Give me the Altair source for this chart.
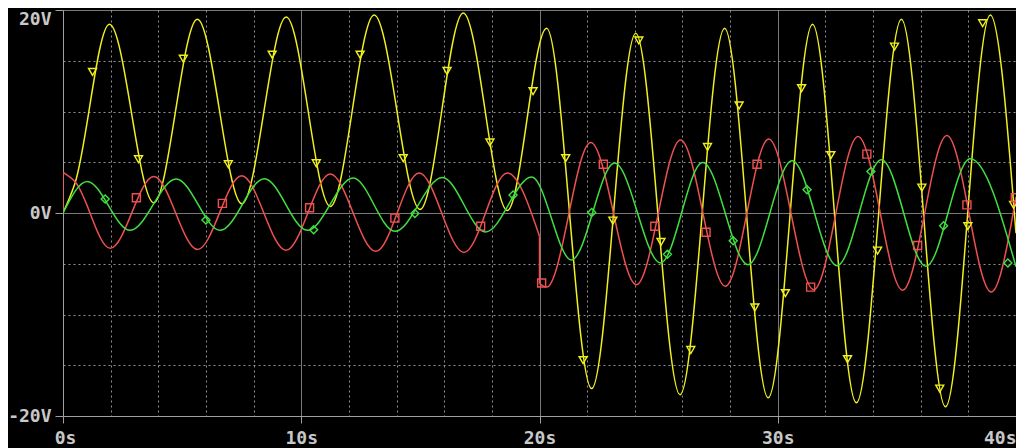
import altair as alt
import pandas as pd

# ---- trace data (time in s, value in V) ----
# yellow trace: start, extrema, end
yel_t = [0, 0.5, 1.95, 3.81, 5.64, 7.51, 9.37, 11.22, 13.06, 14.99, 16.80, 18.65, 20.30,
         22.19, 24.04, 25.90, 27.77, 29.60, 31.46, 33.30, 35.19, 37.04, 38.92, 40.0]
yel_v = [0, 2.9, 18.6, 1.0, 19.1, 0.9, 19.3, 0.65, 19.5, 0.35, 19.7, 0.25, 18.2,
         -17.3, 17.7, -17.9, 18.2, -18.2, 18.6, -18.7, 19.1, -19.1, 19.5, -2.0]

# red trace, before and after the step at 20 s
red1_t = [0, 0.5, 1.98, 3.81, 5.65, 7.50, 9.36, 11.22, 13.13, 14.95, 16.83, 18.65, 20.0]
red1_v = [4.0, 3.1, -3.48, 3.6, -3.6, 3.67, -3.68, 3.84, -3.78, 3.94, -3.88, 3.94, -2.3]
red2_t = [20.0, 20.3, 22.15, 24.07, 25.92, 27.80, 29.62, 31.51, 33.37, 35.24, 37.10, 38.96, 40.0]
red2_v = [-6.96, -7.3, 6.95, -7.06, 7.2, -7.22, 7.28, -7.55, 7.54, -7.6, 7.64, -7.78, 1.6]
# vertical steps of the red trace
redjump_t = [0, 0, 20.0, 20.0]
redjump_v = [0, 4.0, -2.3, -6.96]

# green trace
grn_t = [0, 1.01, 2.82, 4.75, 6.60, 8.45, 10.26, 12.18, 13.93, 15.92, 17.74, 19.67, 21.34,
         23.15, 25.08, 26.85, 28.75, 30.60, 32.49, 34.35, 36.22, 38.08, 40.0]
grn_v = [0, 3.11, -1.71, 3.35, -1.71, 3.38, -1.71, 3.44, -1.81, 3.5, -1.87, 3.55, -4.63,
         4.92, -4.92, 4.98, -5.09, 5.15, -5.19, 5.25, -5.25, 5.34, -5.3]

# trace markers
ymk_t = [1.24, 3.17, 5.05, 6.94, 8.78, 10.63, 12.47, 14.28, 16.12, 17.92, 19.73, 21.10, 21.83,
         23.08, 24.17, 25.10, 26.35, 27.05, 28.38, 29.04, 30.32, 31.0, 32.23, 32.93, 34.19,
         34.9, 36.05, 36.8, 37.98, 38.6, 39.9]
ymk_v = [13.9, 5.3, 15.2, 4.8, 15.6, 4.9, 15.6, 5.4, 14.0, 6.95, 12.0, 5.4, -14.5,
         -0.75, 17.0, -2.85, -13.5, 6.5, 10.6, -9.3, -7.9, 12.3, 5.7, -14.4, -3.7,
         16.4, 2.5, -17.3, -1.3, 18.7, 0.8]
rmk_t = [3.08, 6.69, 10.35, 13.93, 17.53, 20.09, 22.68, 24.84, 26.99, 29.13, 31.38, 33.74,
         35.87, 37.94, 39.97]
rmk_v = [1.5, 0.95, 0.52, -0.5, -1.3, -6.9, 4.8, -1.3, -1.9, 4.8, -7.3, 5.8, -3.2, 0.8, 1.5]
gmk_t = [1.77, 6.0, 10.52, 14.77, 18.89, 22.19, 25.37, 28.13, 31.23, 33.91, 36.96, 39.66]
gmk_v = [1.38, -0.69, -1.64, -0.04, 1.77, 0.06, -4.07, -2.73, 2.3, 4.1, -1.25, -4.92]

# axis ticks
x_ticks = [0, 2, 4, 6, 8, 10, 12, 14, 16, 18, 20, 22, 24, 26, 28, 30, 32, 34, 36, 38, 40]
y_ticks = [-20, -15, -10, -5, 0, 5, 10, 15, 20]

series = ["Y", "R", "G"]
colors = ["#f0f020", "#f05050", "#40e040"]
shapes = ["triangle-down", "square", "diamond"]

AX = "#a0a0a0"
GRID = "#909090"
LBL = "#c8c8c8"
FONT = "DejaVu Sans Mono"

rows = []
def add(ts, vs, s, seg):
    for t, v in zip(ts, vs):
        rows.append({"t": t, "v": v, "s": s, "seg": seg})

add(yel_t, yel_v, "Y", "y")
add(red1_t, red1_v, "R", "r1")
add(red2_t, red2_v, "R", "r2")
add(redjump_t[:2], redjump_v[:2], "R", "j1")
add(redjump_t[2:], redjump_v[2:], "R", "j2")
add(grn_t, grn_v, "G", "g")
lines = pd.DataFrame(rows)

mrows = []
for ts, vs, s in [(ymk_t, ymk_v, "Y"), (rmk_t, rmk_v, "R"), (gmk_t, gmk_v, "G")]:
    for t, v in zip(ts, vs):
        mrows.append({"t": t, "v": v, "s": s})
marks = pd.DataFrame(mrows)

xaxis = alt.Axis(
    values=x_ticks, title=None,
    labelExpr="datum.value % 10 == 0 ? datum.value + 's' : ''",
    labelFlush=False, labelOverlap=False, labelBound=False,
    labelAlign={"condition": {"test": "datum.value == 40", "value": "right"}, "value": "center"},
    labelOffset={"condition": {"test": "datum.value == 0", "value": 2}, "value": 0},
    labelFont=FONT, labelFontSize=18, labelFontWeight="bold", labelColor=LBL, labelPadding=6,
    grid=True,
    gridColor={"condition": {"test": "datum.value % 10 == 0", "value": AX}, "value": GRID},
    gridDash={"condition": {"test": "datum.value % 10 == 0", "value": [1, 0]}, "value": [2, 3]},
    gridOpacity={"condition": {"test": "datum.value == 40 || datum.value == 0", "value": 0}, "value": 1},
    gridWidth=1,
    tickOpacity={"condition": {"test": "datum.value % 10 == 0", "value": 1}, "value": 0},
    tickColor=AX, tickSize=7, tickWidth=1,
    domainColor=AX, domainWidth=1,
)
yaxis = alt.Axis(
    values=y_ticks, title=None,
    labelExpr="datum.value % 20 == 0 ? datum.value + 'V' : ''",
    labelOverlap=False, labelFlush=False, labelBound=False,
    labelOffset={"condition": {"test": "datum.value == 20", "value": 9}, "value": 0},
    labelFont=FONT, labelFontSize=18, labelFontWeight="bold", labelColor=LBL, labelPadding=4,
    grid=True,
    gridColor={"condition": {"test": "datum.value % 20 == 0", "value": AX}, "value": GRID},
    gridDash={"condition": {"test": "datum.value % 20 == 0", "value": [1, 0]}, "value": [2, 3]},
    gridWidth=1,
    tickOpacity={"condition": {"test": "datum.value % 20 == 0", "value": 1}, "value": 0},
    tickColor=AX, tickSize=8, tickWidth=1,
    domainColor=AX, domainWidth=1,
)

xenc = alt.X("t:Q", scale=alt.Scale(domain=[0, 40], nice=False, zero=False), axis=xaxis)
yenc = alt.Y("v:Q", scale=alt.Scale(domain=[-20, 20], nice=False, zero=False), axis=yaxis)
cenc = alt.Color("s:N", scale=alt.Scale(domain=series, range=colors), legend=None)

line_layer = alt.Chart(lines).mark_line(interpolate="monotone", strokeWidth=1.5, clip=True).encode(
    x=xenc, y=yenc, color=cenc, detail="seg:N"
)
mark_layer = alt.Chart(marks).mark_point(filled=False, strokeWidth=1.4, size=64, opacity=1, clip=True).encode(
    x=xenc, y=yenc, color=cenc,
    shape=alt.Shape("s:N", scale=alt.Scale(domain=series, range=shapes), legend=None),
)

chart = alt.layer(line_layer, mark_layer).properties(
    width=953, height=406,
    autosize=alt.AutoSizeParams(type="none"),
    padding={"left": 55, "top": 2, "right": 0, "bottom": 32},
    background="black",
).configure_view(stroke=None)

chart.save("out.html", embed_options={"renderer": "svg", "actions": False})
